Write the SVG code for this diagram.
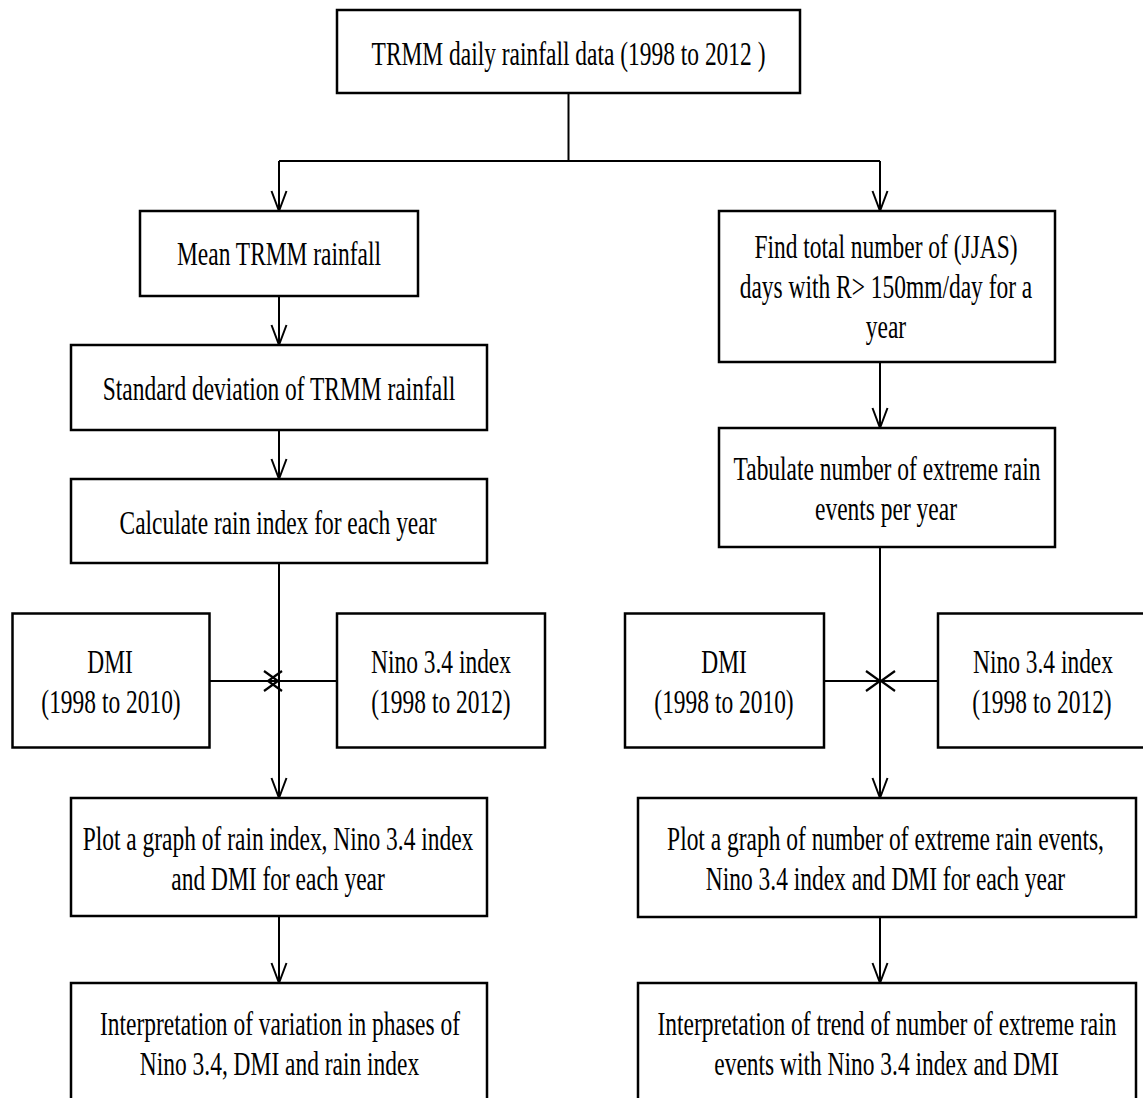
<svg xmlns="http://www.w3.org/2000/svg" width="1143" height="1098" viewBox="0 0 1143 1098">
<style>
.box{fill:#fff;stroke:#000;stroke-width:2.5}
.t{font-family:"Liberation Serif","Times New Roman",serif;font-size:34px;fill:#000;text-anchor:middle}
.c{fill:none;stroke:#000;stroke-width:2}
</style>
<defs>
<marker id="av" markerUnits="userSpaceOnUse" orient="auto" refX="0" refY="0" markerWidth="30" markerHeight="30" overflow="visible">
<path d="M-20,-7.5 L0,0 L-20,7.5" fill="none" stroke="#000" stroke-width="2"/>
</marker>
<marker id="ah" markerUnits="userSpaceOnUse" orient="auto" refX="0" refY="0" markerWidth="30" markerHeight="30" overflow="visible">
<path d="M-14,-10 L0,0 L-14,10" fill="none" stroke="#000" stroke-width="2.2"/>
</marker>
</defs>
<rect width="1143" height="1098" fill="#fff"/>
<g id="connectors">
<path class="c" d="M568.5,93 V161"/>
<path class="c" d="M279,161 H880"/>
<path class="c" d="M279,161 V211" marker-end="url(#av)"/>
<path class="c" d="M880,161 V211" marker-end="url(#av)"/>
<path class="c" d="M279,296 V345" marker-end="url(#av)"/>
<path class="c" d="M279,430 V479" marker-end="url(#av)"/>
<path class="c" d="M880,362 V428" marker-end="url(#av)"/>
<path class="c" d="M279,563 V798" marker-end="url(#av)"/>
<path class="c" d="M880,547 V798" marker-end="url(#av)"/>
<path class="c" d="M279,916 V983" marker-end="url(#av)"/>
<path class="c" d="M880,917 V983" marker-end="url(#av)"/>
<path class="c" d="M209.5,681 H278" marker-end="url(#ah)"/>
<path class="c" d="M337,681 H268" marker-end="url(#ah)"/>
<path class="c" d="M824,681 H880" marker-end="url(#ah)"/>
<path class="c" d="M938,681 H881" marker-end="url(#ah)"/>
</g>
<g id="n_top">
<rect class="box" x="337" y="10" width="463" height="83"/>
<text class="t" transform="matrix(0.69,0,0,1,568.5,65)">TRMM daily rainfall data (1998 to 2012 )</text>
</g>
<g id="n_mean">
<rect class="box" x="140" y="211" width="278" height="85"/>
<text class="t" transform="matrix(0.69,0,0,1,279,265)">Mean TRMM rainfall</text>
</g>
<g id="n_find">
<rect class="box" x="719" y="211" width="336" height="151"/>
<text class="t" transform="matrix(0.69,0,0,1,886,258)">Find total number of (JJAS)</text>
<text class="t" transform="matrix(0.69,0,0,1,886,298)">days with R&gt; 150mm/day for a</text>
<text class="t" transform="matrix(0.69,0,0,1,886,338)">year</text>
</g>
<g id="n_std">
<rect class="box" x="71" y="345" width="416" height="85"/>
<text class="t" transform="matrix(0.69,0,0,1,279,400)">Standard deviation of TRMM rainfall</text>
</g>
<g id="n_calc">
<rect class="box" x="71" y="479" width="416" height="84"/>
<text class="t" transform="matrix(0.69,0,0,1,278,534)">Calculate rain index for each year</text>
</g>
<g id="n_tab">
<rect class="box" x="719" y="428" width="336" height="119"/>
<text class="t" transform="matrix(0.69,0,0,1,887,480)">Tabulate number of extreme rain</text>
<text class="t" transform="matrix(0.69,0,0,1,886,520)">events per year</text>
</g>
<g id="n_dmi_l">
<rect class="box" x="12.5" y="613.5" width="197" height="134"/>
<text class="t" transform="matrix(0.69,0,0,1,110,673)">DMI</text>
<text class="t" transform="matrix(0.69,0,0,1,111,713)">(1998 to 2010)</text>
</g>
<g id="n_nino_l">
<rect class="box" x="337" y="613.5" width="208" height="134"/>
<text class="t" transform="matrix(0.69,0,0,1,441,673)">Nino 3.4 index</text>
<text class="t" transform="matrix(0.69,0,0,1,441,713)">(1998 to 2012)</text>
</g>
<g id="n_dmi_r">
<rect class="box" x="625" y="613.5" width="199" height="134"/>
<text class="t" transform="matrix(0.69,0,0,1,724,673)">DMI</text>
<text class="t" transform="matrix(0.69,0,0,1,724,713)">(1998 to 2010)</text>
</g>
<g id="n_nino_r">
<rect class="box" x="938" y="613.5" width="212" height="134"/>
<text class="t" transform="matrix(0.69,0,0,1,1043,673)">Nino 3.4 index</text>
<text class="t" transform="matrix(0.69,0,0,1,1042,713)">(1998 to 2012)</text>
</g>
<g id="n_plot_l">
<rect class="box" x="71" y="798" width="416" height="118"/>
<text class="t" transform="matrix(0.69,0,0,1,278,850)">Plot a graph of rain index, Nino 3.4 index</text>
<text class="t" transform="matrix(0.69,0,0,1,278,890)">and DMI for each year</text>
</g>
<g id="n_plot_r">
<rect class="box" x="638" y="798" width="498" height="119"/>
<text class="t" transform="matrix(0.69,0,0,1,885.5,850)">Plot a graph of number of extreme rain events,</text>
<text class="t" transform="matrix(0.69,0,0,1,885.5,890)">Nino 3.4 index and DMI for each year</text>
</g>
<g id="n_interp_l">
<rect class="box" x="71" y="983" width="416" height="130"/>
<text class="t" transform="matrix(0.69,0,0,1,280,1035)">Interpretation of variation in phases of</text>
<text class="t" transform="matrix(0.69,0,0,1,279.5,1075)">Nino 3.4, DMI and rain index</text>
</g>
<g id="n_interp_r">
<rect class="box" x="638" y="983" width="498" height="130"/>
<text class="t" transform="matrix(0.69,0,0,1,887,1035)">Interpretation of trend of number of extreme rain</text>
<text class="t" transform="matrix(0.69,0,0,1,886.5,1075)">events with Nino 3.4 index and DMI</text>
</g>
</svg>
